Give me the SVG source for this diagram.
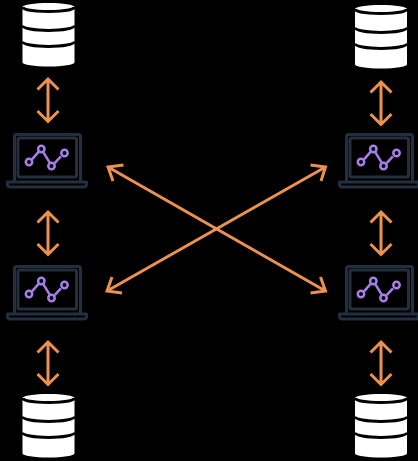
<svg xmlns="http://www.w3.org/2000/svg" xmlns:xlink="http://www.w3.org/1999/xlink" width="418" height="461" viewBox="0 0 418 461">
<style>
.a{fill:none;stroke:#ed914f;stroke-width:3;stroke-linecap:butt;stroke-linejoin:miter}
.l{fill:none;stroke:#232f3e;stroke-width:3;stroke-linejoin:round}
.c{fill:none;stroke:#a67ee8;stroke-width:2.500}
.d{fill:#fff}
.b{fill:none;stroke:#000;stroke-width:3}
</style>
<defs>
<g id="db">
<path class="d" d="M0 4V59.500C0 61.600 11.600 63.500 26 63.500S52 61.600 52 59.500V4C52 1.800 40.400 0 26 0S0 1.800 0 4Z"/>
<path class="b" d="M0 4C0 6.600 11.600 8.400 26 8.400S52 6.600 52 4"/>
<path class="b" d="M0 22.500C0 25.200 11.600 27.400 26 27.400S52 25.200 52 22.500"/>
<path class="b" d="M0 38.500C0 41.200 11.600 43.400 26 43.400S52 41.200 52 38.500"/>
</g>
<g id="lap">
<path class="l" d="M14.500 181.500V136.500Q14.500 134.500 16.500 134.500H78.500Q80.500 134.500 80.500 136.500V181.500"/>
<rect class="l" x="18" y="138" width="58.500" height="39" rx="1.500"/>
<path class="l" d="M7.500 182H86.500V184Q86.500 187 83.500 187H10.500Q7.500 187 7.500 184Z"/>
<path class="c" d="M32 159.300 38.600 151.800M43.400 152.400 49.700 162.600M54.700 163.100 60.900 156.300"/>
<circle class="c" cx="29" cy="162" r="3.200"/>
<circle class="c" cx="41.300" cy="149" r="3.200"/>
<circle class="c" cx="51.500" cy="166" r="3.200"/>
<circle class="c" cx="64.500" cy="153" r="3.200"/>
</g>
<path id="v" class="a" d="M0 0V42.500M-10.500 10.500 0 0 10.500 10.500M-10.500 32 0 42.500 10.500 32"/>
</defs>
<rect width="418" height="461" fill="#000"/>
<g id="connectors">
<use xlink:href="#v" href="#v" x="48" y="79"/>
<use xlink:href="#v" href="#v" x="48" y="212"/>
<use xlink:href="#v" href="#v" x="48" y="342"/>
<use xlink:href="#v" href="#v" x="381" y="82"/>
<use xlink:href="#v" href="#v" x="381" y="212"/>
<use xlink:href="#v" href="#v" x="381" y="342"/>
<path class="a" d="M108 167 325.500 291M123.500 165 108 167 113 181M310.500 293 325.500 291 320.500 277"/>
<path class="a" d="M325.500 167 107 291M310.500 165 325.500 167 321 181M122 293 107 291 112 277"/>
</g>
<g id="db-top-left"><use xlink:href="#db" href="#db" x="22.500" y="3"/></g>
<g id="db-top-right"><use xlink:href="#db" href="#db" x="355" y="5"/></g>
<g id="db-bottom-left"><use xlink:href="#db" href="#db" x="22.500" y="394"/></g>
<g id="db-bottom-right"><use xlink:href="#db" href="#db" x="355" y="394"/></g>
<g id="laptop-top-left"><use xlink:href="#lap" href="#lap"/></g>
<g id="laptop-top-right"><use xlink:href="#lap" href="#lap" x="332"/></g>
<g id="laptop-bottom-left"><use xlink:href="#lap" href="#lap" y="132"/></g>
<g id="laptop-bottom-right"><use xlink:href="#lap" href="#lap" x="332" y="132"/></g>
</svg>
